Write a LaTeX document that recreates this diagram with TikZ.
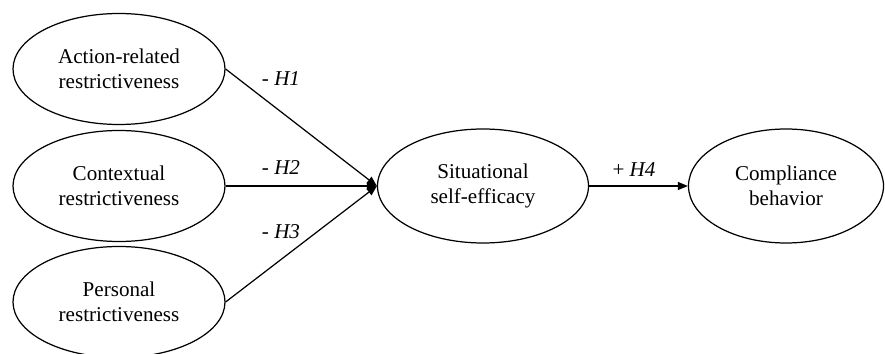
\documentclass[tikz,border=0pt]{standalone}
\usepackage{fontspec}
\setmainfont{Liberation Serif}
\usepackage{tikz}
\usetikzlibrary{positioning,arrows.meta,shapes.geometric}

\begin{document}
\begin{tikzpicture}[
  font=\fontsize{12}{14.4}\selectfont,
  cons/.style={draw=black,line width=0.7pt,ellipse,align=center,inner sep=0pt,minimum width=#1,minimum height=2.22cm},
  cons/.default=4.24cm,
  path/.style={line width=0.7pt,draw=black},
  lab/.style={inner sep=1pt},
  >={Triangle[length=2mm,width=1.6mm]}]
\useasboundingbox (0,0) rectangle (17.7,-7.08);
% ---- antecedents
\node[cons] (act) at (2.38,-1.38) {Action-related\\ restrictiveness};
\node[cons] (ctx) at (2.38,-3.72) {Contextual\\ restrictiveness};
\node[cons] (per) at (2.38,-6.04) {Personal\\ restrictiveness};
% ---- mediator and outcome
\node[cons=4.22cm,minimum height=2.28cm] (sit) at (9.66,-3.72) {Situational\\ self-efficacy};
\node[cons=3.9cm,minimum height=2.28cm] (comp) at (15.72,-3.72) {Compliance\\ behavior};
% ---- paths
\draw[path,->] (act.east) -- (sit.west);
\draw[path,->] (ctx.east) -- (sit.west);
\draw[path,->] (per.east) -- (sit.west);
\draw[path,->] (sit.east) -- (comp.west);
\node[lab] (h1) at (5.62,-1.58) {- \textit{H1}};
\node[lab] (h2) at (5.62,-3.36) {- \textit{H2}};
\node[lab] (h3) at (5.62,-4.64) {- \textit{H3}};
\node[lab] (h4) at (12.68,-3.40) {+ \textit{H4}};
\end{tikzpicture}
\end{document}
